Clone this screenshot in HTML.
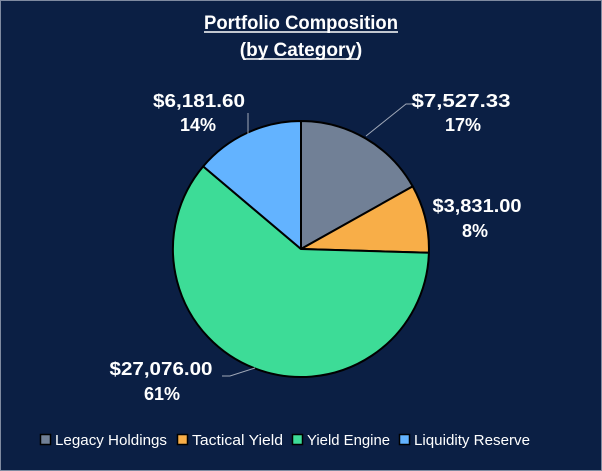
<!DOCTYPE html>
<html><head><style>
html,body{margin:0;padding:0;background:#fff;}
svg{display:block;font-family:"Liberation Sans",Arial,sans-serif;}
</style></head><body>
<svg width="602" height="471" viewBox="0 0 602 471">
<rect x="0.5" y="0.5" width="601" height="470" fill="#0B1F44" stroke="#7f8aa0" stroke-width="1"/>
<text x="301" y="29" text-anchor="middle" fill="#fff" font-size="19" font-weight="bold" textLength="194" lengthAdjust="spacingAndGlyphs">Portfolio Composition</text>
<line x1="204" y1="32" x2="398" y2="32" stroke="#fff" stroke-width="1.5"/>
<text x="301" y="56" text-anchor="middle" fill="#fff" font-size="19" font-weight="bold">(by Category)</text>
<line x1="245" y1="59" x2="357" y2="59" stroke="#fff" stroke-width="1.5"/>
<g stroke="#000" stroke-width="2" stroke-linejoin="round">
<path d="M301,249 L301,121 A128,128 0 0 1 412.7,186.4 Z" fill="#718096"/>
<path d="M301,249 L412.7,186.4 A128,128 0 0 1 428.9,252.7 Z" fill="#F8AE48"/>
<path d="M301,249 L428.9,252.7 A128,128 0 1 1 203.2,166.4 Z" fill="#3DDC97"/>
<path d="M301,249 L203.2,166.4 A128,128 0 0 1 301,121 Z" fill="#63B3FF"/>
</g>
<g stroke="#a0a8b8" stroke-width="1" fill="none">
<polyline points="366,136 406,104 412,104"/>
<polyline points="248,134 248,113"/>
<polyline points="255,368 230,376 222,376"/>
</g>
<g fill="#fff" font-size="18" font-weight="bold" text-anchor="middle">
<text x="461" y="107" textLength="99" lengthAdjust="spacingAndGlyphs">$7,527.33</text><text x="463" y="131">17%</text>
<text x="477" y="212" textLength="89" lengthAdjust="spacingAndGlyphs">$3,831.00</text><text x="475" y="237">8%</text>
<text x="199" y="107" textLength="92" lengthAdjust="spacingAndGlyphs">$6,181.60</text><text x="198" y="131">14%</text>
<text x="161" y="375" textLength="103" lengthAdjust="spacingAndGlyphs">$27,076.00</text><text x="162" y="400">61%</text>
</g>
<g stroke="#000" stroke-width="1.5">
<rect x="40.5" y="434.5" width="10" height="10" fill="#718096"/>
<rect x="177.5" y="434.5" width="10" height="10" fill="#F8AE48"/>
<rect x="292.5" y="434.5" width="10" height="10" fill="#3DDC97"/>
<rect x="399.5" y="434.5" width="10" height="10" fill="#63B3FF"/>
</g>
<g fill="#fff" font-size="15">
<text x="55" y="445" textLength="112" lengthAdjust="spacingAndGlyphs">Legacy Holdings</text>
<text x="192" y="445" textLength="91" lengthAdjust="spacingAndGlyphs">Tactical Yield</text>
<text x="307" y="445" textLength="83" lengthAdjust="spacingAndGlyphs">Yield Engine</text>
<text x="414" y="445" textLength="116" lengthAdjust="spacingAndGlyphs">Liquidity Reserve</text>
</g>
</svg>
</body></html>
